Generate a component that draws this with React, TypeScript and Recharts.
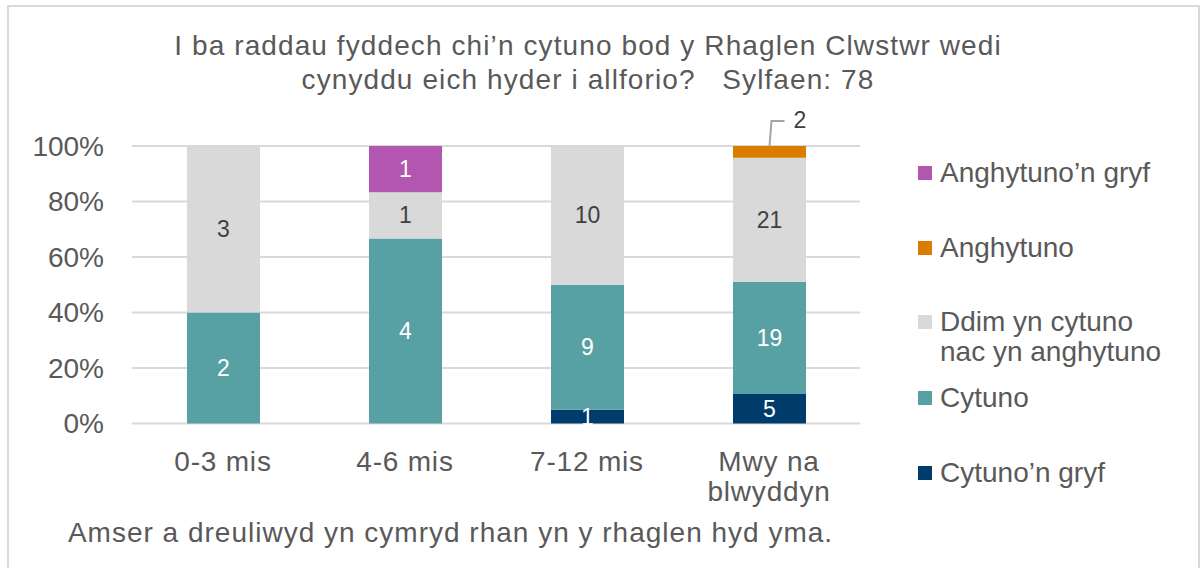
import { Bar, BarChart, CartesianGrid, LabelList, Legend, XAxis, YAxis } from 'recharts';

const categories = ['0-3 mis', '4-6 mis', '7-12 mis', 'Mwy na blwyddyn'];
const cytunoGryf = [0, 0, 1, 5];
const cytuno = [2, 4, 9, 19];
const ddim = [3, 1, 10, 21];
const anghytuno = [0, 0, 0, 2];
const anghytunoGryf = [0, 1, 0, 0];
const yTicks = [0, 0.2, 0.4, 0.6, 0.8, 1];

const FONT = '"Liberation Sans", Arial, sans-serif';
const TEXT = '#595959';

// bottom to top, as stacked
const SERIES = [
  { key: 'cytunoGryf', name: 'Cytuno’n gryf', values: cytunoGryf, color: '#003C6B', label: '#FFFFFF' },
  { key: 'cytuno', name: 'Cytuno', values: cytuno, color: '#57A0A3', label: '#FFFFFF' },
  { key: 'ddim', name: 'Ddim yn cytuno\nnac yn anghytuno', values: ddim, color: '#D9D9D9', label: '#404040' },
  { key: 'anghytuno', name: 'Anghytuno', values: anghytuno, color: '#D97C00', label: '#404040', callout: true },
  { key: 'anghytunoGryf', name: 'Anghytuno’n gryf', values: anghytunoGryf, color: '#B256B0', label: '#FFFFFF' },
];

const data = categories.map((name, i) => {
  const row: Record<string, string | number> = { name };
  SERIES.forEach((s) => { row[s.key] = s.values[i]; });
  return row;
});

// greedy word wrap on character count
function wrap(label: string, max = 10) {
  const lines: string[] = [];
  let cur = '';
  label.split(' ').forEach((w) => {
    if (cur && (cur + ' ' + w).length > max) { lines.push(cur); cur = w; }
    else cur = cur ? cur + ' ' + w : w;
  });
  if (cur) lines.push(cur);
  return lines;
}

function XTick(props: any) {
  const { x, y, payload } = props;
  return (
    <text x={x} y={y + 47} textAnchor="middle" fill={TEXT} fontSize={28} fontFamily={FONT} letterSpacing={0.8}>
      {wrap(String(payload.value)).map((l, i) => (
        <tspan key={i} x={x} dy={i === 0 ? 0 : 30}>{l}</tspan>
      ))}
    </text>
  );
}

function makeLabel(s: (typeof SERIES)[number]) {
  return (props: any) => {
    const { x, y, width, height, value } = props;
    const v = Array.isArray(value) ? value[1] - value[0] : Number(value);
    if (!v) return null;
    const cx = Number(x) + Number(width) / 2;
    if (s.callout) {
      const top = Number(y);
      return (
        <g>
          <polyline points={`${cx},${top} ${cx + 2},${top - 25} ${cx + 15},${top - 25}`} fill="none" stroke="#A6A6A6" strokeWidth={2} />
          <text x={cx + 24} y={top - 26} dominantBaseline="central" fill="#404040" fontSize={23} fontFamily={FONT}>{v}</text>
        </g>
      );
    }
    return (
      <text x={cx} y={Number(y) + Number(height) / 2} textAnchor="middle" dominantBaseline="central"
        fill={s.label} fontSize={23} fontFamily={FONT}>
        {v}
      </text>
    );
  };
}

function LegendBox() {
  const items = [...SERIES].reverse();
  const gaps = [0, 45, 44, 16, 45];
  return (
    <div style={{ fontFamily: FONT, fontSize: 28, color: TEXT }}>
      {items.map((s, i) => (
        <div key={s.key} style={{ display: 'flex', alignItems: 'flex-start', marginTop: gaps[i] }}>
          <span style={{ width: 14, height: 14, background: s.color, marginTop: 8, marginRight: 8, flex: 'none' }} />
          <span style={{ whiteSpace: 'pre', lineHeight: '30px' }}>{s.name}</span>
        </div>
      ))}
    </div>
  );
}

export default function App() {
  return (
    <div style={{ position: 'absolute', left: 0, top: 0, width: 1200, height: 568, overflow: 'hidden', background: '#fff', fontFamily: FONT }}>
      <div style={{ position: 'absolute', left: 7, top: 5, width: 1189, height: 600, border: '2px solid #D9D9D9' }} />
      <div style={{ position: 'absolute', left: 0, top: 29, width: 1176, textAlign: 'center', fontSize: 28, lineHeight: '34px', color: TEXT, whiteSpace: 'pre', letterSpacing: 1.1 }}>
        {'I ba raddau fyddech chi’n cytuno bod y Rhaglen Clwstwr wedi\ncynyddu eich hyder i allforio?   Sylfaen: 78'}
      </div>
      <div style={{ position: 'absolute', left: 0, top: 516, width: 901, textAlign: 'center', fontSize: 28, lineHeight: '34px', color: TEXT, letterSpacing: 1 }}>
        Amser a dreuliwyd yn cymryd rhan yn y rhaglen hyd yma.
      </div>
      <div style={{ position: 'absolute', left: 0, top: 0 }}>
        <BarChart width={1200} height={568} data={data} stackOffset="expand"
          margin={{ top: 146, right: 340, bottom: 64.5, left: 32 }}>
          <CartesianGrid vertical={false} stroke="#D9D9D9" strokeWidth={2} />
          <XAxis dataKey="name" height={80} axisLine={false} tickLine={false} tickSize={0} tickMargin={0}
            tick={<XTick />} interval={0} />
          <YAxis width={100} domain={[0, 1]} ticks={yTicks} axisLine={false} tickLine={false} tickSize={0} tickMargin={28}
            tickFormatter={(v: number) => `${Math.round(v * 100)}%`}
            tick={{ fill: TEXT, fontSize: 28, fontFamily: FONT }} />
          {SERIES.map((s) => (
            <Bar key={s.key} dataKey={s.key} name={s.name} stackId="a" fill={s.color} barSize={73} isAnimationActive={false}>
              <LabelList dataKey={s.key} content={makeLabel(s)} />
            </Bar>
          ))}
          <Legend layout="vertical" align="center" verticalAlign="middle" content={<LegendBox />}
            wrapperStyle={{ left: 918, top: 158, width: 275, height: 'auto' }} />
        </BarChart>
      </div>
    </div>
  );
}
